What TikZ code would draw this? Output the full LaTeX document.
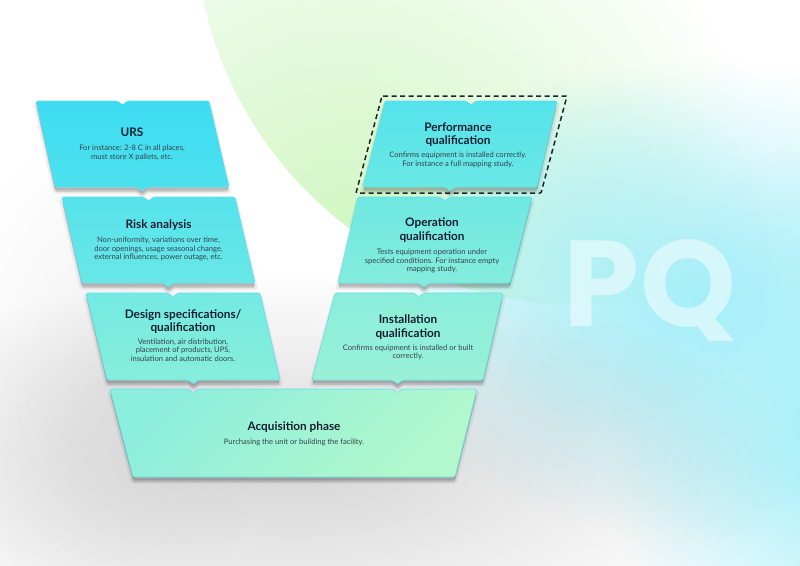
\documentclass[tikz,border=0pt]{standalone}
\usepackage{fontspec}
\setmainfont{Lato}
\newfontfamily\pqfont{Poppins}
\usetikzlibrary{fadings}
\definecolor{greenin}{HTML}{D0F7C2}
\definecolor{cyanglow}{HTML}{A6EFF9}
\definecolor{stageedge}{HTML}{62DCEF}
\definecolor{titlecol}{HTML}{142032}
\definecolor{bodycol}{HTML}{34424C}
\definecolor{dashcol}{HTML}{1B2330}
\definecolor{ursA}{HTML}{3EDCF1}\definecolor{ursB}{HTML}{4DE1EE}
\definecolor{riskA}{HTML}{57E3EC}\definecolor{riskB}{HTML}{69E7E6}
\definecolor{desA}{HTML}{73EAE2}\definecolor{desB}{HTML}{88EEDB}
\definecolor{acqA}{HTML}{8CEEDC}\definecolor{acqB}{HTML}{B2F8CC}
\definecolor{perfA}{HTML}{55E3EB}\definecolor{perfB}{HTML}{6AE8E4}
\definecolor{opA}{HTML}{6FE8E2}\definecolor{opB}{HTML}{84EDDC}
\definecolor{instA}{HTML}{8AEEDB}\definecolor{instB}{HTML}{9AF1D6}
\tikzfading[name=glowfade, inner color=transparent!0, outer color=transparent!100]
\tikzset{
  stageshape/.style={draw=stageedge, line width=0.6pt, rounded corners=1.5pt},
  shadowA/.style={fill=black, opacity=0.13, rounded corners=1.5pt},
  shadowB/.style={draw=black, opacity=0.06, line width=5pt, line join=round},
  ttl/.style={font=\bfseries\fontsize{11.8}{13}\selectfont, text=titlecol, anchor=base, inner sep=0pt},
  bdy/.style={font=\fontsize{7.6}{8.6}\selectfont, text=bodycol, anchor=base, inner sep=0pt},
  dashframe/.style={draw=dashcol, line width=1.5pt, dash pattern=on 5pt off 3.5pt, rounded corners=1pt},
  pqtext/.style={font=\pqfont\bfseries\fontsize{122}{122}\selectfont, text=white, text opacity=0.5, anchor=base, inner sep=0pt}
}
\newcommand\stageshadow[1]{%
  \path[shadowA, yshift=-3pt] #1;
  \path[shadowA, yshift=-5pt] #1;
  \path[shadowB, yshift=-4pt] #1;}
% #1 name, #2 TLx, #3 TRx, #4 BRx, #5 BLx, #6 top y, #7 bottom y, #8 top colour, #9 bottom colour
\newcommand\stage[9]{%
  \pgfmathsetmacro\stgN{(#2+#3)/2}%
  \pgfmathsetmacro\stgT{(#4+#5)/2}%
  \edef\stgpath{(#2,#6) -- (\stgN-5,#6) -- (\stgN,#6+4) -- (\stgN+5,#6) -- (#3,#6)
    -- (#4,#7) -- (\stgT+5,#7) -- (\stgT,#7+4) -- (\stgT-5,#7) -- (#5,#7) -- cycle}%
  \stageshadow{\stgpath}%
  \path[stageshape, top color=#8, bottom color=#9] \stgpath;
  \coordinate (#1) at ({(\stgN+\stgT)/2},{(#6+#7)/2});}
\begin{document}
\begin{tikzpicture}[x=1pt,y=-1pt]
\useasboundingbox (0,0) rectangle (800,565);
\fill[white] (0,0) rectangle (800,565);
\begin{scope}
  \clip (0,0) rectangle (800,565);
  % pale green disc
  \begin{scope}
    \clip (580,-80) circle (385);
    \shade[left color=white!90!greenin, right color=white] (150,-100) rectangle (750,400);
    \fill[greenin, path fading=glowfade] (350,240) circle (420);
  \end{scope}
  % cyan glow on the right
  \fill[cyanglow, path fading=glowfade] (700,300) ellipse (340 and 240);
  \fill[cyanglow, path fading=glowfade] (830,440) ellipse (220 and 300);
  \fill[cyanglow, opacity=0.5, path fading=glowfade] (590,250) ellipse (180 and 180);
\end{scope}
% big soft shadows under the V
\fill[black, opacity=0.16, path fading=glowfade] (294,470) ellipse (500 and 200);
\fill[black, opacity=0.06, path fading=glowfade] (110,380) ellipse (170 and 260);
% PQ
\node[pqtext] (pq) at (650,326) {PQ};
% left column
\stage{urs}{36}{209}{229}{55}{101}{187}{ursA}{ursB}
\stage{risk}{62}{235}{255}{82}{197}{283}{riskA}{riskB}
\stage{design}{86}{260}{280}{107}{293}{380}{desA}{desB}
% right column
\stage{perf}{385}{557}{537}{363}{101}{187}{perfA}{perfB}
\stage{oper}{358}{532}{510}{338}{197}{283}{opA}{opB}
\stage{inst}{335}{503}{483}{312}{293}{380}{instA}{instB}
% acquisition
\def\acqpath{(110,389) -- (188.5,389) -- (193.5,393) -- (198.5,389) -- (392.5,389) -- (397.5,393) -- (402.5,389)
  -- (477,389) -- (455,477) -- (133,477) -- cycle}
\stageshadow{\acqpath}
\path[stageshape, top color=acqA, bottom color=acqB, shading angle=45] \acqpath;
\coordinate (acq) at (294,433);
% dashed frame
\draw[dashframe] (382,96) -- (567,96) -- (541,193) -- (356,193) -- cycle;
% texts
\node[ttl] (t1) at (132,136.5) {URS};
\node[bdy] (b1a) at (132,150.5) {For instance: 2-8 C in all places,};
\node[bdy] (b1b) at (132,159.5) {must store X pallets, etc.};
\node[ttl] (t2) at (158.5,228.5) {Risk analysis};
\node[bdy] (b2a) at (158.5,242.5) {Non-uniformity, variations over time,};
\node[bdy] (b2b) at (158.5,251) {door openings, usage seasonal change,};
\node[bdy] (b2c) at (158.5,259.5) {external influences, power outage, etc.};
\node[ttl] (t3a) at (183,318.5) {Design specifications/};
\node[ttl] (t3b) at (183,331.5) {qualification};
\node[bdy] (b3a) at (183,344.5) {Ventilation, air distribution,};
\node[bdy] (b3b) at (183,352.8) {placement of products, UPS,};
\node[bdy] (b3c) at (183,361) {insulation and automatic doors.};
\node[ttl] (t4) at (294,430.5) {Acquisition phase};
\node[bdy] (b4a) at (294,444.5) {Purchasing the unit or building the facility.};
\node[ttl] (t5a) at (458,131) {Performance};
\node[ttl] (t5b) at (458,144.5) {qualification};
\node[bdy] (b5a) at (458,157.5) {Confirms equipment is installed correctly.};
\node[bdy] (b5b) at (458,166.2) {For instance a full mapping study.};
\node[ttl] (t6a) at (432,226.5) {Operation};
\node[ttl] (t6b) at (432,240) {qualification};
\node[bdy] (b6a) at (432,254.5) {Tests equipment operation under};
\node[bdy] (b6b) at (432,263) {specified conditions. For instance empty};
\node[bdy] (b6c) at (432,271.5) {mapping study.};
\node[ttl] (t7a) at (408,323.5) {Installation};
\node[ttl] (t7b) at (408,337) {qualification};
\node[bdy] (b7a) at (408,350) {Confirms equipment is installed or built};
\node[bdy] (b7b) at (408,358.5) {correctly.};
\end{tikzpicture}
\end{document}
